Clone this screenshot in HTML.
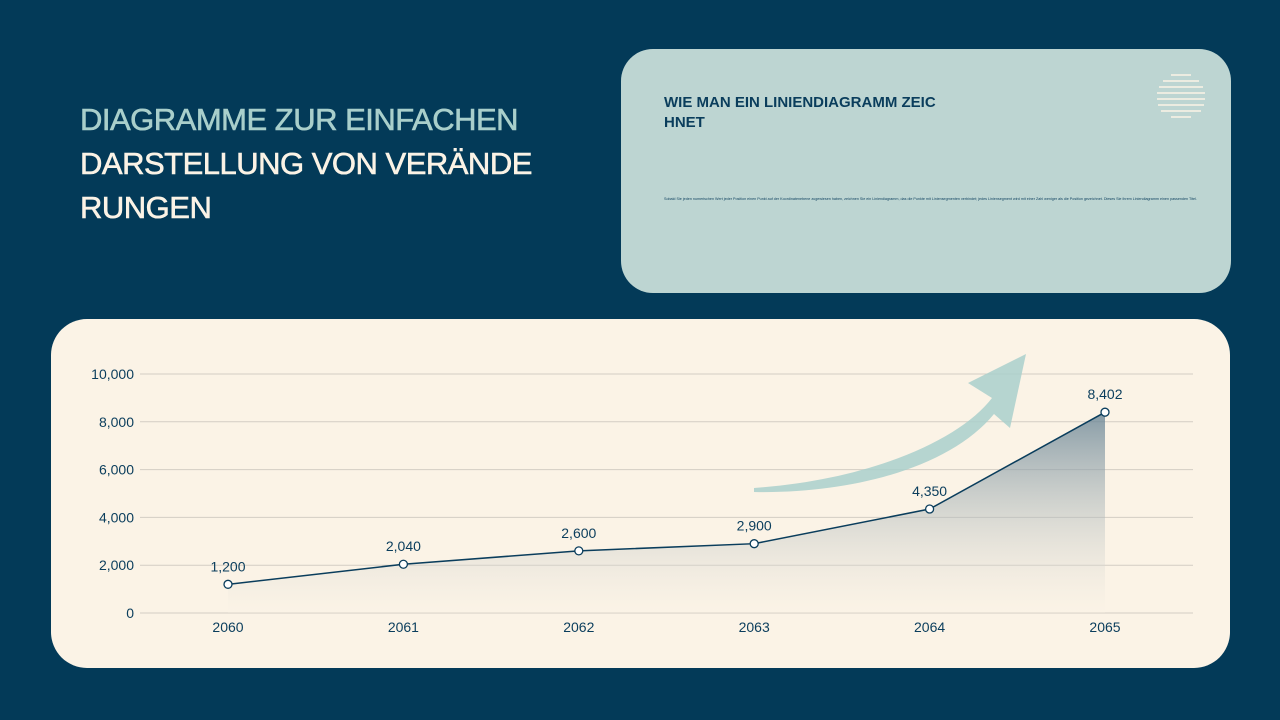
<!DOCTYPE html>
<html><head><meta charset="utf-8"><style>
body{margin:0;width:1280px;height:720px;background:#033a58;position:relative;overflow:hidden;font-family:"Liberation Sans",sans-serif}
.t{position:absolute;left:80px;top:98px;font-size:31px;line-height:44px;color:#fbf3e6;letter-spacing:-0.5px;-webkit-text-stroke:0.6px currentColor}
.card1{position:absolute;left:621px;top:49px;width:610px;height:244px;border-radius:32px;background:#bdd5d2}
.card2{position:absolute;left:51px;top:319px;width:1179px;height:349px;border-radius:36px;background:#fbf3e6}
</style></head><body>
<div class="t"><span style="color:#a9cfcb">DIAGRAMME ZUR EINFACHEN</span><br>DARSTELLUNG VON VERÄNDE<br>RUNGEN</div>
<div class="card1">
<div style="position:absolute;left:43px;top:44px;font-size:15px;line-height:20px;font-weight:bold;color:#0a3d5c">WIE MAN EIN LINIENDIAGRAMM ZEIC<br>HNET</div>
<div style="position:absolute;left:43px;top:148px;font-size:3.7px;color:#0a3d5c;white-space:nowrap">Sobald Sie jeden numerischen Wert jeder Position einen Punkt auf der Koordinatenebene zugewiesen haben, zeichnen Sie ein Liniendiagramm, das die Punkte mit Liniensegmenten verbindet; jedes Liniensegment wird mit einer Zahl weniger als die Position gezeichnet. Dieses Sie ihrem Liniendiagramm einen passenden Titel.</div>
<svg style="position:absolute;left:535px;top:24px" width="50" height="50">
<g stroke="#fbf3e6" stroke-width="1.5">
<line x1="15" y1="2" x2="35" y2="2"/><line x1="7" y1="8" x2="43" y2="8"/><line x1="3" y1="14" x2="47" y2="14"/><line x1="1" y1="20" x2="49" y2="20"/><line x1="1" y1="26" x2="49" y2="26"/><line x1="2" y1="32" x2="48" y2="32"/><line x1="5" y1="38" x2="45" y2="38"/><line x1="15" y1="44" x2="35" y2="44"/></g></svg>
</div>
<div class="card2"></div>
<svg id="chart" style="position:absolute;left:0;top:0" width="1280" height="720"></svg>
<script>
const categories=["2060","2061","2062","2063","2064","2065"];
const values=[1200,2040,2600,2900,4350,8402];
const yTicks=[0,2000,4000,6000,8000,10000];
const NS="http://www.w3.org/2000/svg";
const svg=document.getElementById('chart');
const x=i=>228+i*175.4;
const y=v=>613-v*(239/10000);
function mk(t,a){const e=document.createElementNS(NS,t);for(const k in a)e.setAttribute(k,a[k]);svg.appendChild(e);return e;}
const defs=mk('defs',{});
defs.innerHTML='<linearGradient id="g" x1="0" y1="0" x2="0" y2="1"><stop offset="0" stop-color="#5f7d90" stop-opacity="0.75"/><stop offset="1" stop-color="#fbf3e6" stop-opacity="0.2"/></linearGradient>';
yTicks.forEach(v=>{
const l=mk('line',{x1:140,x2:1193,y1:y(v),y2:y(v),stroke:'#d3cdc4','stroke-width':1});


const t=mk('text',{x:134,y:y(v)+5,'text-anchor':'end','font-size':14,fill:'#0a3d5c','font-family':'Liberation Sans'});
t.textContent=v.toLocaleString('en-US');


});
const arrow=mk('path',{d:'M754 488 C870 480 960 440 992 398 L968 383 L1026 354 L1010 428 L994 414 C950 468 850 494 754 492 Z',fill:'#a9cfcb',opacity:0.85});


let d='M'+x(0)+' '+y(0);
values.forEach((v,i)=>d+=' L'+x(i)+' '+y(v));
d+=' L'+x(values.length-1)+' '+y(0)+' Z';
const area=mk('path',{d:d,fill:'url(#g)'});


const line=mk('polyline',{points:values.map((v,i)=>x(i)+','+y(v)).join(' '),fill:'none',stroke:'#0a3d5c','stroke-width':1.5});


values.forEach((v,i)=>{
const c=mk('circle',{cx:x(i),cy:y(v),r:4,fill:'#fff',stroke:'#0a3d5c','stroke-width':1.3});


const t=mk('text',{x:x(i),y:y(v)-13,'text-anchor':'middle','font-size':14,fill:'#0a3d5c','font-family':'Liberation Sans'});
t.textContent=v.toLocaleString('en-US');


const xl=mk('text',{x:x(i),y:632,'text-anchor':'middle','font-size':14,fill:'#0a3d5c','font-family':'Liberation Sans'});
xl.textContent=categories[i];


});
</script>
</body></html>
